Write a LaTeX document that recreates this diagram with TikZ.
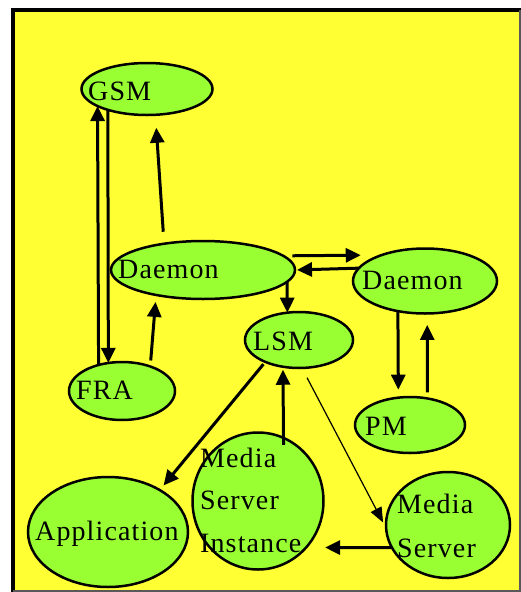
\documentclass[tikz,border=0pt]{standalone}
\usepackage{fontspec}
\setmainfont{Liberation Serif}[LetterSpace=4]
\usetikzlibrary{shapes.geometric,arrows.meta}

\definecolor{bgyellow}{RGB}{255,255,51}
\definecolor{nodegreen}{RGB}{153,255,51}

\begin{document}
\begin{tikzpicture}[x=1pt,y=-1pt,
  proc/.style={ellipse,draw=black,line width=2.5pt,fill=nodegreen,inner sep=0pt,outer sep=0pt},
  lbl/.style={anchor=base west,inner sep=0pt,font=\fontsize{28}{43}\selectfont,align=left},
  flow/.style={line width=3pt,-{Triangle[length=15pt,width=14pt]}},
  thinflow/.style={line width=1.2pt,-{Triangle[length=15pt,width=12pt]}}]

\useasboundingbox (0,0) rectangle (521,592);

% panel
\fill[bgyellow] (12.5,10) rectangle (520,591);
\draw[black,line width=4pt] (12.5,592) -- (12.5,10) -- (521,10);
\draw[black!65,line width=1.5pt] (520,10) -- (520,591) -- (12.5,591);

% processes
\node[proc,minimum width=131pt,minimum height=52pt]  (gsm) at (147,89)  {};
\node[proc,minimum width=184pt,minimum height=58pt]  (d1)  at (203,270) {};
\node[proc,minimum width=144pt,minimum height=65pt]  (d2)  at (425,281) {};
\node[proc,minimum width=108pt,minimum height=56pt]  (lsm) at (299,340) {};
\node[proc,minimum width=106pt,minimum height=58pt]  (fra) at (122,391) {};
\node[proc,minimum width=110pt,minimum height=56pt]  (pm)  at (410,425) {};
\node[proc,minimum width=131pt,minimum height=137pt] (msi) at (258,501) {};
\node[proc,minimum width=160pt,minimum height=110pt] (app) at (108,532) {};
\node[proc,minimum width=124pt,minimum height=106pt] (ms)  at (448,525) {};

% labels (multi-line labels are anchored on their last line)
\node[lbl] (gsm-t) at (88,100)  {GSM};
\node[lbl] (d1-t)  at (118,278) {Daemon};
\node[lbl] (d2-t)  at (362,289) {Daemon};
\node[lbl] (lsm-t) at (253,350) {LSM};
\node[lbl] (fra-t) at (76,399)  {FRA};
\node[lbl] (pm-t)  at (365,435) {PM};
\node[lbl,font=\fontsize{28}{42.5}\selectfont] (msi-t) at (200,552) {Media\\Server\\Instance};
\node[lbl] (app-t) at (35,540)  {Application};
\node[lbl,font=\fontsize{28}{44}\selectfont] (ms-t)  at (397,557) {Media\\Server};

% messages
\draw[flow] (fra.132.9) -- (gsm.199.4);
\draw[flow] (gsm.208.2) -- (fra.116.6);
\draw[flow,shorten <=12pt,shorten >=13pt] (d1.146.9) -- (gsm.-72.8);
\draw[flow,shorten <=6pt,shorten >=7pt] (fra.41.3) -- (d1.208.6);
\draw[flow,shorten <=9pt,shorten >=21pt] (d1.10.8) -- (d2.149);
\draw[flow,shorten >=2pt] (d2.169.8) -- (d1.0.6);
\draw[flow] (d1.-8) -- (lsm.113.7);
\draw[flow,shorten >=8pt] (d2.228.1) -- (pm.113.7);
\draw[flow,shorten <=6pt,shorten >=11.5pt] (pm.57.4) -- (d2.-86.5);
\draw[flow,shorten <=3pt,shorten >=6pt] (lsm.213.3) -- (app.39.5);
\draw[flow,shorten <=-7pt,shorten >=3pt] (msi.68.4) -- (lsm.239.1);
\draw[thinflow,shorten <=11pt,shorten >=6.5pt] (lsm.-84.5) -- (ms.183.5);
\draw[flow,shorten >=19pt] (ms.202.4) -- (msi.-44.6);

\end{tikzpicture}
\end{document}
